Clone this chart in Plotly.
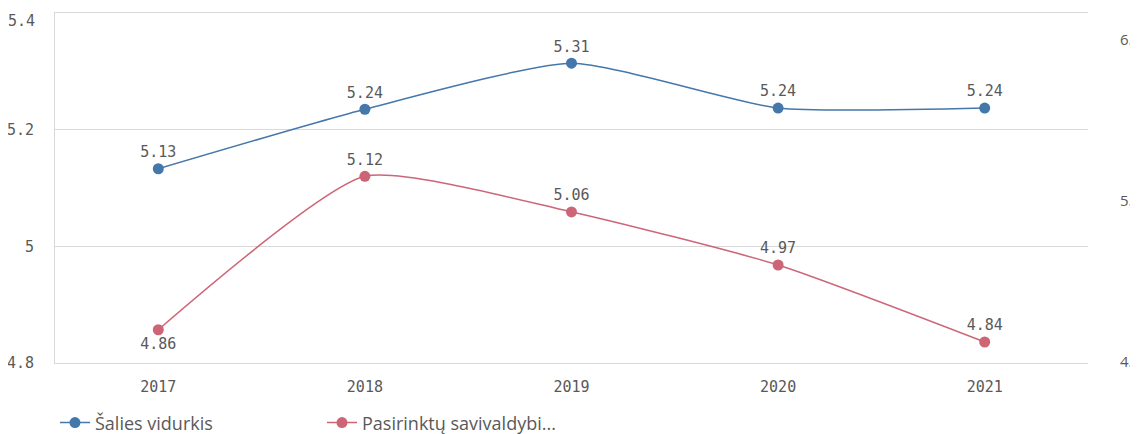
import plotly.graph_objects as go

years = ["2017", "2018", "2019", "2020", "2021"]
national_avg = [5.133, 5.235, 5.314, 5.237, 5.237]
selected_muni = [4.857, 5.12, 5.059, 4.968, 4.836]
series_names = ["Šalies vidurkis", "Pasirinktų savivaldybi..."]
left_tick_vals = [4.8, 5.0, 5.2, 5.4]
left_tick_text = ["4.8", "5", "5.2", "5.4"]
right_tick_vals = [4, 5, 6]
right_tick_text = ["4.", "5.", "6."]

BLUE = "#4477aa"
RED = "#cc6677"
GRAY = "#595959"
GRID = "#d9d9d9"
NUMFONT = "DejaVu Sans Mono"

fig = go.Figure()
fig.add_trace(go.Scatter(
    x=years, y=national_avg, name=series_names[0],
    mode="lines+markers+text",
    line=dict(color=BLUE, width=1.5, shape="spline", smoothing=0.55),
    marker=dict(color=BLUE, size=11),
    text=[f"{v:.2f}" for v in national_avg],
    textposition="top center",
    textfont=dict(family=NUMFONT, size=15, color=GRAY),
    cliponaxis=False,
))
red_pos = ["bottom center" if i == 0 else "top center" for i in range(len(years))]
fig.add_trace(go.Scatter(
    x=years, y=selected_muni, name=series_names[1],
    mode="lines+markers+text",
    line=dict(color=RED, width=1.5, shape="spline", smoothing=0.55),
    marker=dict(color=RED, size=11),
    text=[f"{v:.2f}" for v in selected_muni],
    textposition=red_pos,
    textfont=dict(family=NUMFONT, size=15, color=GRAY),
    cliponaxis=False,
))
fig.add_trace(go.Scatter(x=[], y=[], yaxis="y2", showlegend=False, hoverinfo="skip"))

# top tick label is nudged down inside the frame, as in the reference
shown_text = [t if v != max(left_tick_vals) else "" for v, t in zip(left_tick_vals, left_tick_text)]
fig.add_annotation(
    xref="paper", x=0, yref="y", y=max(left_tick_vals),
    text=left_tick_text[-1], showarrow=False,
    xanchor="right", yanchor="middle", xshift=-18, yshift=-8,
    font=dict(family=NUMFONT, size=15, color=GRAY),
)

fig.update_layout(
    width=1130, height=426,
    margin=dict(l=47, r=50, t=5, b=71, autoexpand=False),
    paper_bgcolor="white", plot_bgcolor="white",
    font=dict(family="Open Sans", size=14, color=GRAY),
    xaxis=dict(
        type="category", range=[-0.5, 4.5], automargin=False,
        showgrid=False, zeroline=False,
        showline=True, mirror=True, linecolor=GRID, linewidth=1,
        tickfont=dict(family=NUMFONT, size=15, color=GRAY),
        ticks="", ticklabelstandoff=10,
    ),
    yaxis=dict(
        range=[4.8, 5.4], tickvals=left_tick_vals, ticktext=shown_text,
        automargin=False,
        showgrid=True, gridcolor=GRID, gridwidth=1,
        zeroline=False, showline=True, linecolor=GRID, linewidth=1,
        tickfont=dict(family=NUMFONT, size=15, color=GRAY),
        ticks="", ticklabelstandoff=17, ticklabeloverflow="allow",
    ),
    yaxis2=dict(
        overlaying="y", side="right", range=[3.994, 6.168], automargin=False,
        tickvals=right_tick_vals, ticktext=right_tick_text,
        showgrid=False, zeroline=False, showline=False,
        tickfont=dict(family="Open Sans", size=15, color=GRAY),
        ticks="", ticklabelstandoff=31, ticklabeloverflow="allow",
    ),
    legend=dict(
        orientation="h", x=0, xanchor="left", y=-0.171, yanchor="middle",
        font=dict(family="Open Sans", size=18, color=GRAY),
        entrywidth=222, entrywidthmode="pixels",
        bgcolor="rgba(0,0,0,0)",
    ),
    showlegend=True,
)

fig.write_html("out.html")
